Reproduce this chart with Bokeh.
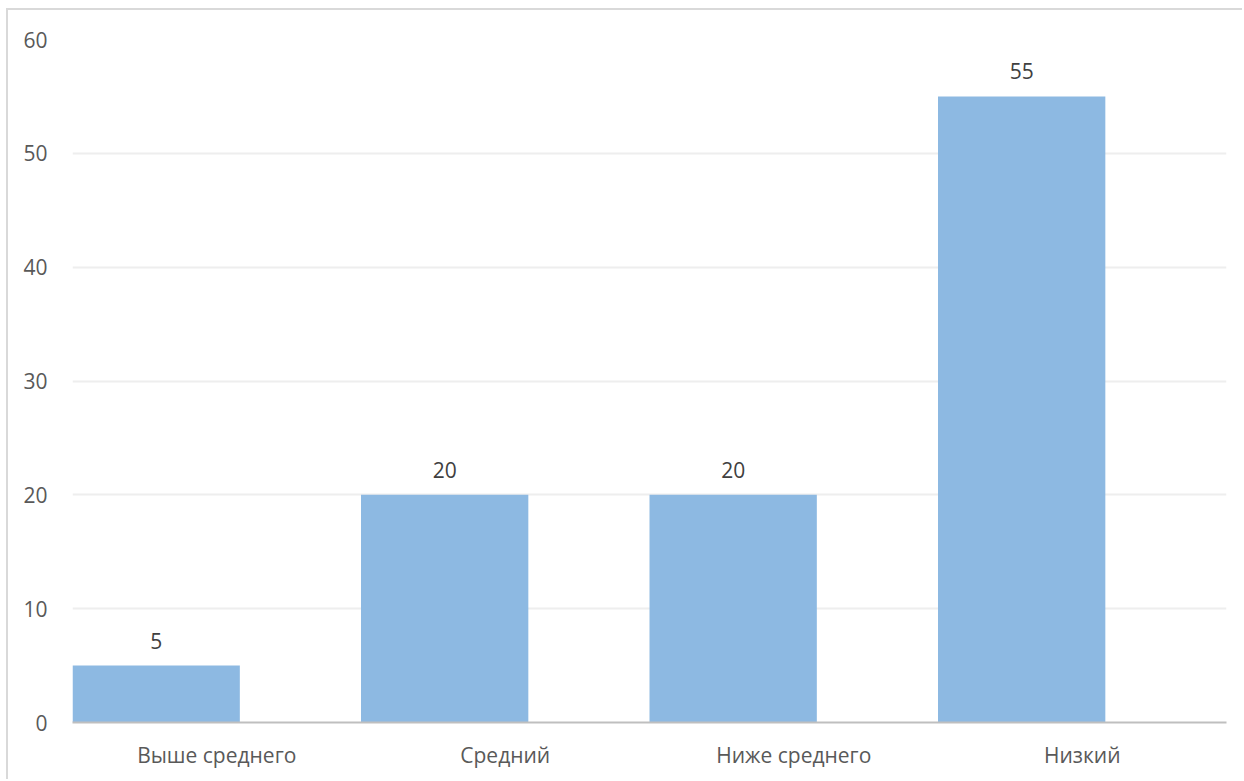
from bokeh.plotting import figure
from bokeh.models import FactorRange, Range1d, ColumnDataSource, SingleIntervalTicker
from bokeh.transform import dodge
from bokeh.core.properties import value
from bokeh.embed import file_html
from bokeh.resources import INLINE

categories = ["Выше среднего", "Средний", "Ниже среднего", "Низкий"]
values = [5, 20, 20, 55]
labels = ["5", "20", "20", "55"]

FONT = "Open Sans"

src = ColumnDataSource(dict(cat=categories, val=values, lab=labels))

p = figure(
    x_range=FactorRange(factors=categories, range_padding=0),
    y_range=Range1d(0, 60),
    width=1236, height=771,
    output_backend="svg", toolbar_location=None,
    min_border_left=64, min_border_right=18, min_border_top=29, min_border_bottom=59,
)
p.styles = {"margin-left": "6px", "margin-top": "8px",
            "border-top": "2px solid #d9d9d9", "border-left": "2px solid #d9d9d9"}
p.outline_line_color = None
p.background_fill_color = "white"
p.border_fill_color = "white"

p.vbar(x=dodge("cat", -0.21, range=p.x_range), top="val", width=0.58, bottom=0,
       source=src, fill_color="#8DB9E2", line_color=None)

p.text(x=dodge("cat", -0.21, range=p.x_range), y="val", text="lab", source=src,
       text_align="center", text_baseline="middle", y_offset=-25,
       text_font=value(FONT), text_font_size="21px", text_color="#404040")

p.yaxis.ticker = SingleIntervalTicker(interval=10)
p.yaxis.axis_line_color = None
p.yaxis.major_tick_line_color = None
p.yaxis.minor_tick_line_color = None
p.yaxis.major_tick_out = 0
p.yaxis.major_label_standoff = 21
p.yaxis.major_label_text_font = FONT
p.yaxis.major_label_text_font_size = "21px"
p.yaxis.major_label_text_color = "#595959"

p.xaxis.axis_line_color = "#bfbfbf"
p.xaxis.axis_line_width = 2
p.xaxis.major_tick_line_color = None
p.xaxis.minor_tick_line_color = None
p.xaxis.major_tick_out = 0
p.xaxis.major_label_standoff = 18
p.xaxis.major_label_text_font = FONT
p.xaxis.major_label_text_font_size = "21px"
p.xaxis.major_label_text_color = "#595959"

p.xgrid.grid_line_color = None
p.ygrid.grid_line_color = "#eeeeee"
p.ygrid.grid_line_width = 2

open("out.html", "w").write(file_html(p, INLINE))
